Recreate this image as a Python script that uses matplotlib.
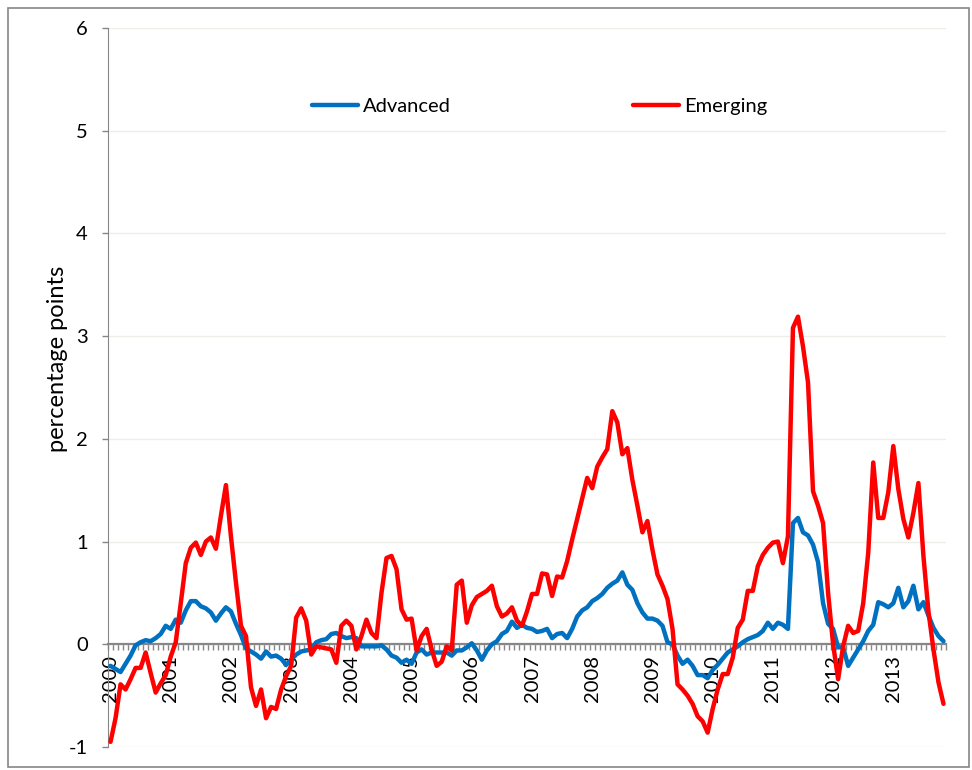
import matplotlib
matplotlib.use("Agg")
import matplotlib.pyplot as plt
from matplotlib.patches import Rectangle
import numpy as np

plt.rcParams['font.family'] = ['Lato', 'DejaVu Sans']
plt.rcParams['axes.unicode_minus'] = False

# monthly series, Jan 2000 - Nov 2013 (percentage points)
advanced = [
    -0.21, -0.24, -0.27, -0.19, -0.11, -0.01, 0.02, 0.04, 0.03, 0.06, 0.10, 0.18,
    0.15, 0.24, 0.21, 0.33, 0.42, 0.42, 0.37, 0.35, 0.31, 0.23, 0.30, 0.36,
    0.32, 0.20, 0.09, -0.04, -0.07, -0.10, -0.14, -0.07, -0.12, -0.11, -0.14, -0.20,
    -0.15, -0.10, -0.07, -0.06, -0.05, 0.02, 0.04, 0.05, 0.10, 0.11, 0.08, 0.06,
    0.07, 0.06, -0.02, -0.02, -0.02, -0.02, -0.01, -0.05, -0.11, -0.13, -0.18, -0.15,
    -0.19, -0.08, -0.05, -0.10, -0.08, -0.08, -0.08, -0.08, -0.11, -0.06, -0.06, -0.03,
    0.01, -0.06, -0.15, -0.06, 0.00, 0.03, 0.10, 0.13, 0.22, 0.16, 0.19, 0.16,
    0.15, 0.12, 0.13, 0.15, 0.06, 0.10, 0.11, 0.06, 0.15, 0.27, 0.33, 0.36,
    0.42, 0.45, 0.49, 0.55, 0.59, 0.62, 0.70, 0.58, 0.53, 0.40, 0.31, 0.25,
    0.25, 0.23, 0.18, 0.02, 0.00, -0.11, -0.19, -0.15, -0.21, -0.30, -0.30, -0.33,
    -0.25, -0.20, -0.14, -0.08, -0.05, -0.02, 0.02, 0.05, 0.07, 0.09, 0.13, 0.21,
    0.15, 0.21, 0.19, 0.15, 1.18, 1.23, 1.09, 1.06, 0.97, 0.80, 0.40, 0.20,
    0.15, -0.03, -0.03, -0.21, -0.13, -0.05, 0.03, 0.13, 0.19, 0.41, 0.39, 0.36,
    0.40, 0.55, 0.36, 0.42, 0.57, 0.34, 0.41, 0.28, 0.16, 0.08, 0.03,
]
emerging = [
    -0.95, -0.72, -0.39, -0.44, -0.34, -0.23, -0.23, -0.08, -0.28, -0.47, -0.38, -0.30,
    -0.12, 0.02, 0.40, 0.79, 0.94, 0.99, 0.87, 1.00, 1.04, 0.93, 1.25, 1.55,
    1.05, 0.60, 0.18, 0.08, -0.42, -0.60, -0.44, -0.72, -0.61, -0.63, -0.44, -0.31,
    -0.21, 0.26, 0.35, 0.23, -0.10, -0.02, -0.03, -0.04, -0.05, -0.18, 0.18, 0.23,
    0.18, -0.05, 0.08, 0.24, 0.11, 0.06, 0.50, 0.84, 0.86, 0.73, 0.34, 0.24,
    0.25, -0.06, 0.08, 0.15, -0.05, -0.21, -0.17, -0.02, -0.06, 0.58, 0.62, 0.21,
    0.38, 0.46, 0.49, 0.52, 0.57, 0.37, 0.27, 0.30, 0.36, 0.23, 0.18, 0.32,
    0.49, 0.49, 0.69, 0.68, 0.47, 0.66, 0.65, 0.81, 1.02, 1.22, 1.42, 1.62,
    1.52, 1.73, 1.82, 1.90, 2.27, 2.16, 1.85, 1.91, 1.60, 1.35, 1.09, 1.20,
    0.92, 0.68, 0.57, 0.44, 0.15, -0.39, -0.44, -0.50, -0.58, -0.70, -0.75, -0.86,
    -0.63, -0.44, -0.29, -0.29, -0.13, 0.16, 0.24, 0.52, 0.52, 0.76, 0.87, 0.94,
    0.99, 1.00, 0.79, 1.05, 3.08, 3.19, 2.90, 2.55, 1.49, 1.35, 1.18, 0.50,
    0.00, -0.34, -0.02, 0.18, 0.11, 0.13, 0.40, 0.89, 1.77, 1.23, 1.23, 1.48,
    1.93, 1.51, 1.22, 1.04, 1.28, 1.57, 0.86, 0.32, -0.05, -0.37, -0.58,
]
years = [str(y) for y in range(2000, 2014)]

GRAY = '#868686'
FS = 14.5

fig = plt.figure(figsize=(9.72, 7.70), dpi=100)
fig.patch.set_facecolor('white')
fig.patches.append(Rectangle((8 / 972, 3 / 770), 961 / 972, 759 / 770,
                             transform=fig.transFigure, fill=False,
                             edgecolor=GRAY, lw=1.2))

ax = fig.add_axes([108 / 972, 1 - 747 / 770, (946 - 108) / 972, (747 - 28) / 770])

n = len(emerging)
x = np.arange(n)
ax.plot(x, advanced, color='#0070C0', lw=3.2, label='Advanced',
        solid_joinstyle='round', solid_capstyle='round', zorder=3)
ax.plot(x, emerging, color='#FF0000', lw=3.2, label='Emerging',
        solid_joinstyle='round', solid_capstyle='round', zorder=4)

ax.set_xlim(-0.5, n - 0.5)
ax.set_ylim(-1, 6)

# y axis
ax.set_yticks(range(-1, 7))
ax.tick_params(axis='y', direction='out', length=4.5, width=1, color=GRAY,
               labelsize=FS, pad=10)
ax.yaxis.grid(True, color='#EEEEE8', lw=1)
ax.set_axisbelow(True)

# x axis sits on zero: month ticks, year labels
for sp in ['top', 'right']:
    ax.spines[sp].set_visible(False)
ax.spines['left'].set_color(GRAY)
ax.spines['bottom'].set_position(('data', 0))
ax.spines['bottom'].set_color(GRAY)
ax.spines['bottom'].set_linewidth(1.6)
ax.spines['bottom'].set_zorder(2)

ax.set_xticks(np.arange(-0.5, n, 1.0))
ax.set_xticklabels([])
ax.tick_params(axis='x', which='major', direction='out', length=4.5, width=1, color=GRAY)
ax.set_xticks(np.arange(0, n, 12), minor=True)
ax.set_xticklabels(years, minor=True, rotation=90, fontsize=FS)
ax.tick_params(axis='x', which='minor', length=0, pad=8)

fig.text(57 / 972, 1 - 359 / 770, 'percentage points', rotation=90,
         ha='center', va='center', fontsize=17)

ax.legend(loc='center', bbox_to_anchor=(0.515, 0.8915), ncol=2, frameon=False,
          handlelength=2.3, handletextpad=0.25, columnspacing=9.0, fontsize=FS)

fig.savefig('out.png', dpi=100, facecolor='white')
